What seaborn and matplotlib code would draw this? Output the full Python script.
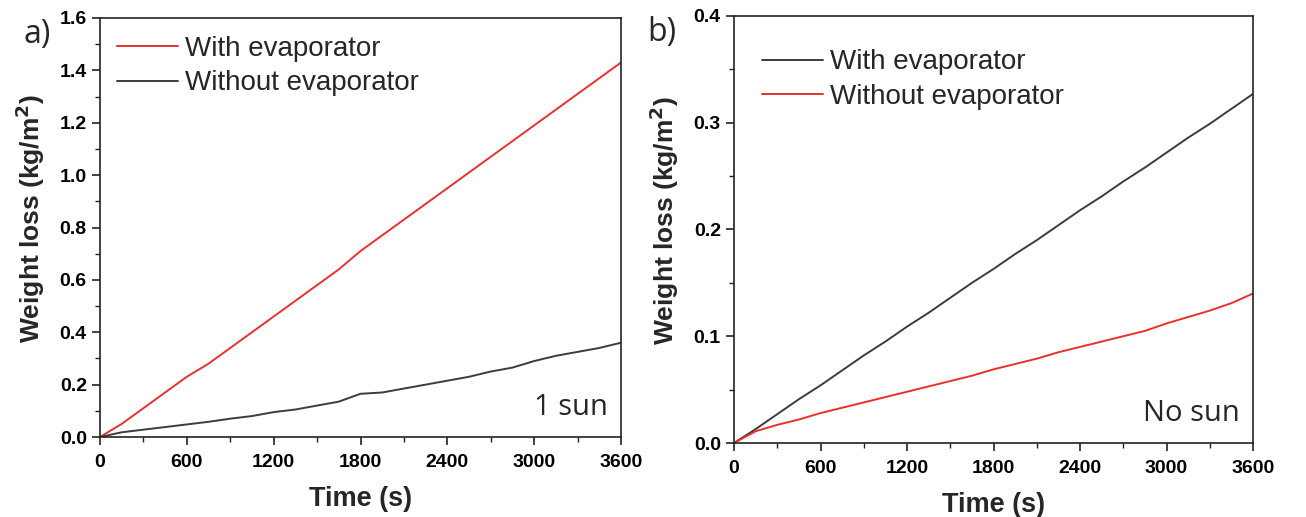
import numpy as np
import pandas as pd
import matplotlib
matplotlib.use("Agg")
import matplotlib.pyplot as plt
import seaborn as sns
from matplotlib.ticker import MultipleLocator

sns.set_style("ticks")
plt.rcParams['font.family'] = ['Liberation Sans', 'DejaVu Sans']

time_s = [0, 150, 300, 450, 600, 750, 900, 1050, 1200, 1350, 1500, 1650, 1800,
          1950, 2100, 2250, 2400, 2550, 2700, 2850, 3000, 3150, 3300, 3450, 3600]

# Panel a (1 sun)
a_with = [0.0, 0.05, 0.11, 0.17, 0.23, 0.28, 0.34, 0.40, 0.46, 0.52, 0.58, 0.64, 0.71,
          0.77, 0.83, 0.89, 0.95, 1.01, 1.07, 1.13, 1.19, 1.25, 1.31, 1.37, 1.43]
a_without = [0.0, 0.018, 0.028, 0.038, 0.048, 0.058, 0.07, 0.08, 0.095, 0.105, 0.12, 0.135, 0.165,
             0.17, 0.185, 0.20, 0.215, 0.23, 0.25, 0.265, 0.29, 0.31, 0.325, 0.34, 0.36]

# Panel b (No sun)
b_with = [0.0, 0.013, 0.027, 0.041, 0.054, 0.068, 0.082, 0.095, 0.109, 0.122, 0.136, 0.15, 0.163,
          0.177, 0.19, 0.204, 0.218, 0.231, 0.245, 0.258, 0.272, 0.286, 0.299, 0.313, 0.327]
b_without = [0.0, 0.011, 0.017, 0.022, 0.028, 0.033, 0.038, 0.043, 0.048, 0.053, 0.058, 0.063, 0.069,
             0.074, 0.079, 0.085, 0.09, 0.095, 0.1, 0.105, 0.112, 0.118, 0.124, 0.131, 0.14]

labels = ["With evaporator", "Without evaporator"]
x_ticks = [0, 600, 1200, 1800, 2400, 3000, 3600]

RED = "#e8302f"
DARK = "#3c3c3c"

fig = plt.figure(figsize=(13.06, 5.17), dpi=100)
ax_a = fig.add_axes([100/1306, 80/517, 521/1306, 419/517])
ax_b = fig.add_axes([734/1306, 74/517, 519/1306, 427/517])

def style(ax, ymax, ymajor, yminor, panel, note, panel_x, leg_anchor):
    ax.set_xlim(0, 3600)
    ax.set_ylim(0, ymax)
    ax.set_xticks(x_ticks)
    ax.xaxis.set_minor_locator(MultipleLocator(300))
    ax.yaxis.set_major_locator(MultipleLocator(ymajor))
    ax.yaxis.set_minor_locator(MultipleLocator(yminor))
    ax.tick_params(which='major', direction='out', length=6, width=1.2, labelsize=14, colors='#222222')
    ax.tick_params(axis='x', which='major', pad=6)
    ax.tick_params(which='minor', direction='out', length=3.5, width=1.0, colors='#222222')
    for lab in ax.get_xticklabels() + ax.get_yticklabels():
        lab.set_fontweight('bold')
        lab.set_color('black')
    for s in ax.spines.values():
        s.set_visible(True)
        s.set_linewidth(1.2)
        s.set_color('#222222')
    ax.set_xlabel("Time (s)", fontsize=19.5, fontweight='bold', labelpad=11)
    ax.set_ylabel("Weight loss (kg/m$^\\mathbf{2}$)", fontsize=19, fontweight='bold',
                  labelpad=9, y=0.522)
    ax.legend(loc='upper left', frameon=False, fontsize=20, handlelength=2.2,
              handletextpad=0.25, labelspacing=0.3, borderaxespad=0.2, borderpad=0.4,
              bbox_to_anchor=leg_anchor)
    ax.text(panel_x, 1.0, panel, transform=ax.transAxes, fontsize=23,
            family='Open Sans', ha='center', va='top')
    ax.text(0.975, 0.035, note, transform=ax.transAxes, fontsize=21,
            family='Open Sans', ha='right', va='bottom')

sns.lineplot(x=time_s, y=a_with, ax=ax_a, color=RED, lw=1.4, label=labels[0])
sns.lineplot(x=time_s, y=a_without, ax=ax_a, color=DARK, lw=1.4, label=labels[1])
style(ax_a, 1.6, 0.2, 0.1, "a)", "1 sun", -0.121, (0.0, 0.997))

sns.lineplot(x=time_s, y=b_with, ax=ax_b, color=DARK, lw=1.4, label=labels[0])
sns.lineplot(x=time_s, y=b_without, ax=ax_b, color=RED, lw=1.4, label=labels[1])
style(ax_b, 0.4, 0.1, 0.05, "b)", "No sun", -0.139, (0.021, 0.961))

fig.savefig("out.png", dpi=100)
